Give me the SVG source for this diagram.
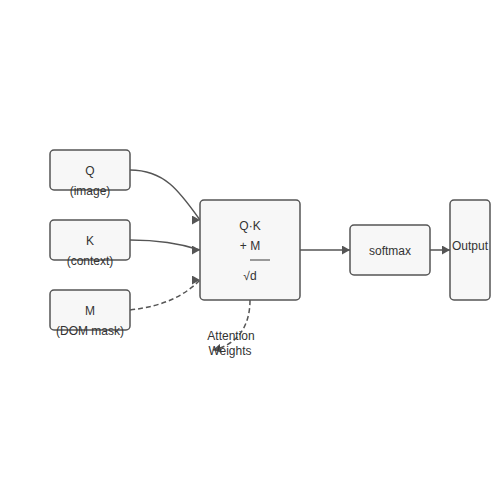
<svg xmlns="http://www.w3.org/2000/svg" width="500" height="500" viewBox="0 0 500 500">
<style>
.box{fill:#f7f7f7;stroke:#555;stroke-width:1.5}
.t{font-family:"Liberation Sans",Arial,sans-serif;font-size:12px;fill:#333;text-anchor:middle}
.c{fill:none;stroke:#555;stroke-width:1.5}
.d{stroke-dasharray:5,3}
</style>
<defs>
<marker id="ah" markerWidth="8" markerHeight="9" refX="8" refY="4.5" orient="0" markerUnits="userSpaceOnUse"><path d="M0,0 L8,4.5 L0,9 Z" fill="#555"/></marker>
<marker id="ah2" markerWidth="8" markerHeight="9" refX="8" refY="4.5" orient="auto" markerUnits="userSpaceOnUse"><path d="M0,0 L8,4.5 L0,9 Z" fill="#555"/></marker>
</defs>
<rect width="500" height="500" fill="#fff"/>
<g id="connectors">
<path class="c" d="M130,170 C165,170 180,192 200,220" marker-end="url(#ah)"/>
<path class="c" d="M130,240 C165,240 185,245 200,250" marker-end="url(#ah)"/>
<path class="c d" d="M130,310 C165,306 185,295 200,280" marker-end="url(#ah)"/>
<path class="c d" d="M250,300 C250,328 236,345 213,350" marker-end="url(#ah2)"/>
<path class="c" d="M300,250 L350,250" marker-end="url(#ah)"/>
<path class="c" d="M430,250 L450,250" marker-end="url(#ah)"/>
</g>
<g id="nodeQ"><rect class="box" x="50" y="150" width="80" height="40" rx="4"/><text class="t" x="90" y="175">Q</text><text class="t" x="90" y="195">(image)</text></g>
<g id="nodeK"><rect class="box" x="50" y="220" width="80" height="40" rx="4"/><text class="t" x="90" y="245">K</text><text class="t" x="90" y="265">(context)</text></g>
<g id="nodeM"><rect class="box" x="50" y="290" width="80" height="40" rx="4"/><text class="t" x="90" y="315">M</text><text class="t" x="90" y="335">(DOM mask)</text></g>
<g id="attention"><rect class="box" x="200" y="200" width="100" height="100" rx="4"/><text class="t" x="250" y="230">Q·K</text><text class="t" x="250" y="250">+ M</text><line x1="250" y1="260" x2="270" y2="260" stroke="#999" stroke-width="2"/><text class="t" x="250" y="280">√d</text></g>
<g id="softmax"><rect class="box" x="350" y="225" width="80" height="50" rx="4"/><text class="t" x="390" y="255">softmax</text></g>
<g id="output"><rect class="box" x="450" y="200" width="40" height="100" rx="4"/><text class="t" x="470" y="250">Output</text></g>
<g id="label"><text class="t" x="231" y="340">Attention</text><text class="t" x="230" y="355">Weights</text></g>
</svg>
